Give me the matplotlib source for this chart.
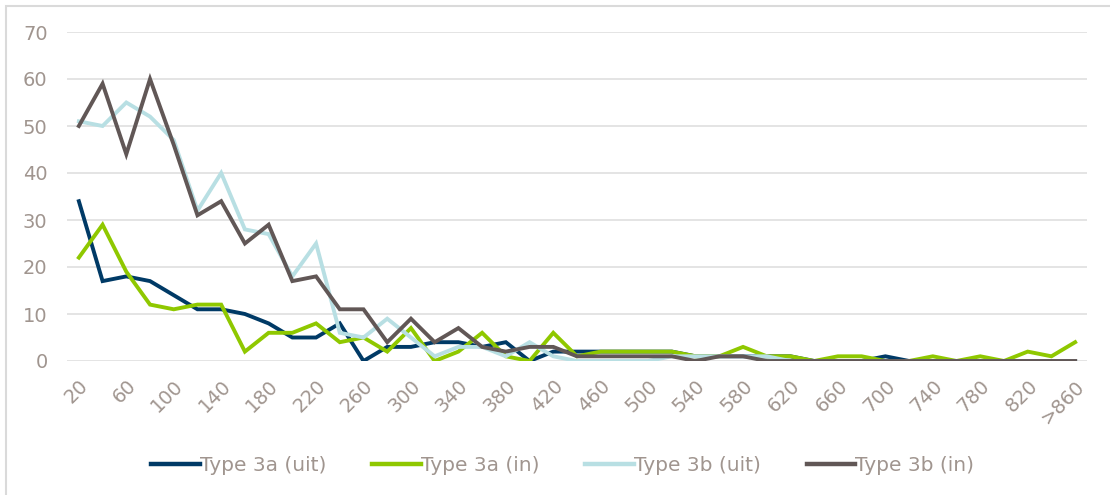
import matplotlib.pyplot as plt
from matplotlib.patches import Rectangle

# length classes on the x axis
classes = [str(v) for v in range(20, 860, 20)] + ['>860']

type3a_uit = [34, 17, 18, 17, 14, 11, 11, 10, 8, 5, 5, 8, 0, 3, 3, 4, 4, 3, 4, 0, 2,
              2, 2, 2, 2, 2, 1, 1, 1, 1, 1, 0, 0, 0, 1, 0, 0, 0, 0, 0, 0, 0, 0]
type3a_in = [22, 29, 19, 12, 11, 12, 12, 2, 6, 6, 8, 4, 5, 2, 7, 0, 2, 6, 1, 0, 6,
             1, 2, 2, 2, 2, 1, 1, 3, 1, 1, 0, 1, 1, 0, 0, 1, 0, 1, 0, 2, 1, 4]
type3b_uit = [51, 50, 55, 52, 47, 32, 40, 28, 27, 18, 25, 6, 5, 9, 5, 1, 3, 3, 1, 4, 1,
              0, 0, 0, 0, 1, 1, 1, 1, 1, 0, 0, 0, 0, 0, 0, 0, 0, 0, 0, 0, 0, 0]
type3b_in = [50, 59, 44, 60, 46, 31, 34, 25, 29, 17, 18, 11, 11, 4, 9, 4, 7, 3, 2, 3, 3,
             1, 1, 1, 1, 1, 0, 1, 1, 0, 0, 0, 0, 0, 0, 0, 0, 0, 0, 0, 0, 0, 0]

series = [
    ('Type 3a (uit)', type3a_uit, '#003a66'),
    ('Type 3a (in)', type3a_in, '#8fc800'),
    ('Type 3b (uit)', type3b_uit, '#b8dfe3'),
    ('Type 3b (in)', type3b_in, '#615756'),
]

txt = '#a0958f'

fig = plt.figure(figsize=(11.1, 4.95), dpi=100)
ax = fig.add_axes([67 / 1110, 1 - 361 / 495, 1020 / 1110, 329 / 495])

x = list(range(len(classes)))
for name, vals, col in series:
    ax.plot(x, vals, color=col, lw=2.8, label=name, solid_joinstyle='miter')

ax.set_xlim(-0.5, len(classes) - 0.5)
ax.set_ylim(0, 70)
ax.set_yticks(range(0, 71, 10))
ax.set_xticks(x[::2])
ax.set_xticklabels(classes[::2], rotation=45, ha='right', rotation_mode='anchor')
ax.tick_params(axis='both', length=0, labelsize=14, colors=txt)
ax.tick_params(axis='y', pad=14)
ax.tick_params(axis='x', pad=11)
ax.grid(axis='y', color='#dcdcdc', lw=1.1)
ax.set_axisbelow(True)
for s in ax.spines.values():
    s.set_visible(False)

leg = fig.legend(loc='center', bbox_to_anchor=(0.507, 0.06), ncol=4, frameon=False,
                 handlelength=2.4, handletextpad=0.0, columnspacing=2.3,
                 prop={'size': 14.5})
for t in leg.get_texts():
    t.set_color(txt)
for h in leg.get_lines():
    h.set_linewidth(3.2)

# outer frame
fig.patches.append(Rectangle((6 / 1110, -0.1), 1.2, 1.1 - 6 / 495, transform=fig.transFigure,
                             fill=False, ec='#dadada', lw=1.5))

fig.savefig('out.png', dpi=100)
